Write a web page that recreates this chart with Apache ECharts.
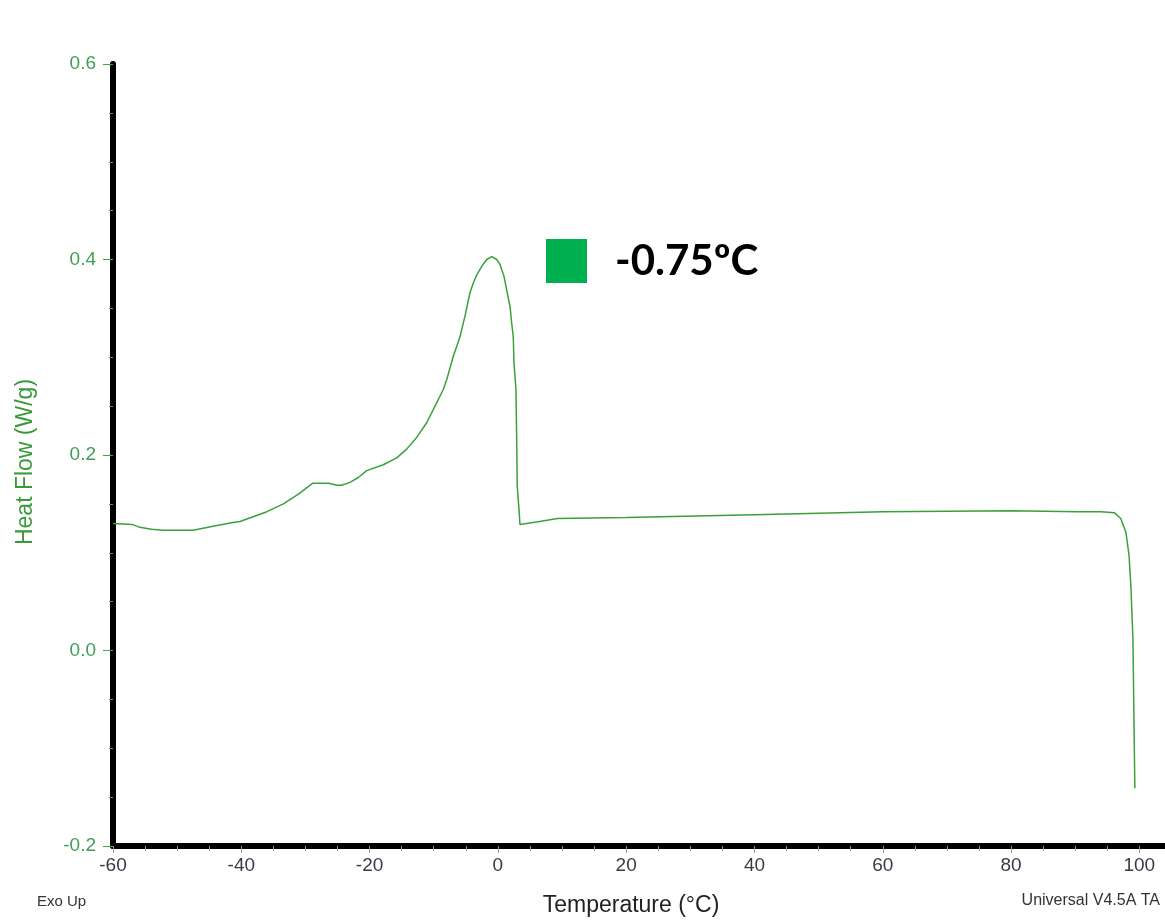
<!DOCTYPE html>
<html>
<head>
<meta charset="utf-8">
<script src="https://cdn.jsdelivr.net/npm/echarts@6/dist/echarts.min.js"></script>
<style>html,body{margin:0;padding:0;background:#fff;}#c{width:1165px;height:923px;}</style>
</head>
<body>
<div id="c"></div>
<script>
// Data
const temperature = [-60, -57.0, -55.8, -54.0, -52.2, -47.5, -44.4, -41.3, -40.2, -36.0, -33.45, -31.1, -28.9, -26.4, -25.1, -24.35, -23.05, -21.76, -20.45, -17.86, -15.77, -14.22, -12.66, -11.10, -9.80, -8.51, -7.98, -6.95, -5.91, -5.13, -4.35, -3.83, -3.30, -2.52, -1.74, -0.96, -0.18, 0.33, 0.95, 1.37, 1.89, 2.15, 2.40, 2.51, 2.82, 2.93, 3.02, 3.33, 3.44, 6.5, 9.3, 20, 40, 60, 80, 90.6, 94.0, 96.1, 97.1, 97.9, 98.4, 98.7, 99.0, 99.1, 99.3];
const heatFlow = [0.130, 0.129, 0.126, 0.124, 0.123, 0.123, 0.127, 0.131, 0.132, 0.142, 0.150, 0.160, 0.171, 0.171, 0.169, 0.169, 0.172, 0.177, 0.184, 0.190, 0.197, 0.206, 0.218, 0.233, 0.250, 0.267, 0.277, 0.301, 0.321, 0.342, 0.366, 0.376, 0.384, 0.393, 0.400, 0.403, 0.400, 0.395, 0.383, 0.369, 0.352, 0.335, 0.321, 0.294, 0.267, 0.216, 0.168, 0.141, 0.129, 0.132, 0.135, 0.136, 0.139, 0.142, 0.143, 0.142, 0.142, 0.141, 0.135, 0.121, 0.097, 0.063, 0.012, -0.039, -0.141];
const seriesName = '-0.75ºC';
const xTitle = 'Temperature (°C)';
const yTitle = 'Heat Flow (W/g)';
const xTicks = [-60, -40, -20, 0, 20, 40, 60, 80, 100];

const chart = echarts.init(document.getElementById('c'));
chart.setOption({
  animation: false,
  backgroundColor: '#fff',
  grid: {left: 113, right: 0, top: 64, bottom: 77},
  legend: {
    left: 546, top: 239, padding: 0,
    itemWidth: 41, itemHeight: 44, itemGap: 10,
    icon: 'rect',
    data: [{name: seriesName, itemStyle: {color: '#00b050'}}],
    textStyle: {fontFamily: 'Lato', fontWeight: 'bold', fontSize: 42, color: '#000', padding: [6, 0, 0, 23]}
  },
  xAxis: {
    type: 'value', min: -60, max: 104, interval: 20,
    axisLine: {onZero: false, lineStyle: {color: '#000', width: 6}},
    axisTick: {show: true, length: 7, lineStyle: {color: '#999', width: 1}},
    minorTick: {show: true, splitNumber: 4, length: 5, lineStyle: {color: '#999'}},
    splitLine: {show: false},
    axisLabel: {
      showMaxLabel: false, margin: 10,
      fontFamily: 'Liberation Sans', fontSize: 19, color: '#3a3a4a',
      formatter: v => xTicks.includes(v) ? String(v) : ''
    },
    name: xTitle, nameLocation: 'middle', nameGap: 48,
    nameTextStyle: {fontFamily: 'Liberation Sans', fontSize: 23, color: '#222', padding: [0, 16, 0, 0]}
  },
  yAxis: {
    type: 'value', min: -0.2, max: 0.6, interval: 0.2,
    axisLine: {onZero: false, lineStyle: {color: '#000', width: 6}},
    axisTick: {show: true, length: 10, lineStyle: {color: '#4aa04a', width: 1}},
    minorTick: {show: true, splitNumber: 4, length: 4, lineStyle: {color: '#4aa04a'}},
    splitLine: {show: false},
    axisLabel: {
      margin: 17, fontFamily: 'Liberation Sans', fontSize: 19, color: '#3f9f55',
      formatter: v => v.toFixed(1)
    },
    name: yTitle, nameLocation: 'middle', nameGap: 76, nameRotate: 90,
    nameTextStyle: {fontFamily: 'Liberation Sans', fontSize: 23, color: '#3a9a3a', padding: [0, 14, 0, 0]}
  },
  series: [{
    name: seriesName, type: 'line', data: temperature.map((t, i) => [t, heatFlow[i]]),
    showSymbol: false, smooth: false,
    lineStyle: {color: '#3aa03a', width: 1.5},
    itemStyle: {color: '#00b050'}
  }],
  graphic: [
    {type: 'text', left: 37, top: 894, style: {text: 'Exo Up', font: '15px "Liberation Sans"', fill: '#333'}},
    {type: 'text', right: 5, top: 893, style: {text: 'Universal V4.5A TA', font: '16px "Liberation Sans"', fill: '#333'}}
  ]
});
</script>
</body>
</html>
